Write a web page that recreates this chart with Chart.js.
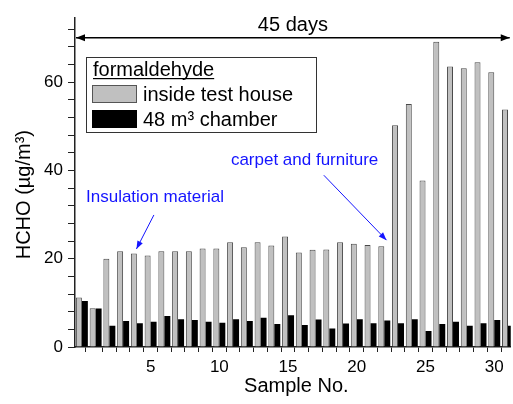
<!DOCTYPE html>
<html>
<head>
<meta charset="utf-8">
<script src="https://cdn.jsdelivr.net/npm/chart.js@4"></script>
<style>
  html, body { margin: 0; padding: 0; background: #fff; }
  #wrap { width: 513px; height: 404px; }
</style>
</head>
<body>
<div id="wrap"><canvas id="hchoChart" width="513" height="404"></canvas></div>
<script>
// Sample numbers (bar pairs) and HCHO values in µg/m³
const sampleNo = [0, 1, 2, 3, 4, 5, 6, 7, 8, 9, 10, 11, 12, 13, 14, 15,
                  16, 17, 18, 19, 20, 21, 22, 23, 24, 25, 26, 27, 28, 29, 30, 31];
const insideHouse = [11.2, 8.8, 20.0, 21.7, 21.2, 20.7, 21.7, 21.7, 21.7, 22.3, 22.3, 23.7, 22.6, 23.7, 23.0, 25.0,
                     21.4, 22.0, 22.1, 23.7, 23.4, 23.1, 22.8, 50.2, 55.0, 37.7, 69.1, 63.5, 63.1, 64.5, 62.2, 53.8];
const chamber = [10.4, 8.7, 4.8, 5.9, 5.4, 5.7, 7.0, 6.3, 6.1, 5.7, 5.5, 6.3, 5.9, 6.6, 5.2, 7.2,
                 5.0, 6.2, 4.2, 5.3, 6.3, 5.4, 6.0, 5.4, 6.3, 3.6, 5.2, 5.7, 4.8, 5.4, 6.1, 4.8];

// tick positions (labels only on the multiples)
const xTicks = [-0.5, 1, 2, 3, 4, 5, 6, 7, 8, 9, 10, 11, 12, 13, 14, 15, 16,
                17, 18, 19, 20, 21, 22, 23, 24, 25, 26, 27, 28, 29, 30, 31];
const yTicks = [0, 4, 8, 12, 16, 20, 24, 28, 32, 36, 40, 44, 48, 52, 56, 60, 64, 68, 72];

const FONT = '"Liberation Sans", Arial, sans-serif';
const BLUE = "#1414ff";

// helper: line with filled arrowhead(s)
function arrow(ctx, x1, y1, x2, y2, color, len, half, both) {
    ctx.strokeStyle = color;
    ctx.fillStyle = color;
    ctx.beginPath();
    ctx.moveTo(x1, y1);
    ctx.lineTo(x2, y2);
    ctx.stroke();
    const head = (tx, ty, fx, fy) => {
        const ang = Math.atan2(ty - fy, tx - fx);
        ctx.beginPath();
        ctx.moveTo(tx, ty);
        ctx.lineTo(tx - len * Math.cos(ang) + half * Math.sin(ang), ty - len * Math.sin(ang) - half * Math.cos(ang));
        ctx.lineTo(tx - len * Math.cos(ang) - half * Math.sin(ang), ty - len * Math.sin(ang) + half * Math.cos(ang));
        ctx.closePath();
        ctx.fill();
    };
    head(x2, y2, x1, y1);
    if (both) head(x1, y1, x2, y2);
}

const overlay = {
    id: "overlay",
    afterDraw(chart) {
        const { ctx, chartArea: a, scales: { x, y } } = chart;
        ctx.save();

        // axis titles (placed by hand, the originals sit off-centre)
        ctx.font = "20px " + FONT;
        ctx.fillStyle = "#000";
        ctx.textAlign = "center";
        ctx.textBaseline = "middle";
        ctx.fillText("Sample No.", x.getPixelForValue(15.6), 386);
        ctx.save();
        ctx.translate(24, y.getPixelForValue(34.5));
        ctx.rotate(-Math.PI / 2);
        ctx.fillText("HCHO (µg/m³)", 0, 0);
        ctx.restore();

        // "45 days" span arrow
        const ySpan = y.getPixelForValue(70);
        ctx.lineWidth = 1.5;
        arrow(ctx, a.left + 1, ySpan, a.right - 1, ySpan, "#000", 9, 3.5, true);
        ctx.fillStyle = "#000";
        ctx.fillText("45 days", (a.left + a.right) / 2, y.getPixelForValue(72.9));

        // legend box
        const lx = a.left + 11, ly = a.top + 39;
        ctx.lineWidth = 1;
        ctx.strokeStyle = "#333";
        ctx.strokeRect(lx + 0.5, ly + 0.5, 230, 75);
        ctx.textAlign = "left";
        ctx.fillStyle = "#000";
        ctx.fillText("formaldehyde", lx + 7, ly + 13);
        const w = ctx.measureText("formaldehyde").width;
        ctx.fillRect(lx + 7, ly + 21, w, 1.2);
        ctx.fillStyle = "#c0c0c0";
        ctx.fillRect(lx + 6, ly + 28, 45, 18);
        ctx.strokeStyle = "#555";
        ctx.strokeRect(lx + 6.5, ly + 28.5, 44, 17);
        ctx.fillStyle = "#000";
        ctx.fillRect(lx + 6, ly + 53, 45, 18);
        ctx.fillText("inside test house", lx + 57, ly + 38);
        ctx.fillText("48 m\u00b3 chamber", lx + 57, ly + 63);

        // blue annotations
        ctx.font = "17px " + FONT;
        ctx.fillStyle = BLUE;
        ctx.fillText("Insulation material", x.getPixelForValue(0.3), y.getPixelForValue(34.0));
        ctx.fillText("carpet and furniture", x.getPixelForValue(10.84), y.getPixelForValue(42.3));
        ctx.lineWidth = 1;
        arrow(ctx, x.getPixelForValue(5.24), y.getPixelForValue(29.9),
              x.getPixelForValue(3.97), y.getPixelForValue(22.2), BLUE, 8, 3, false);
        arrow(ctx, x.getPixelForValue(17.6), y.getPixelForValue(38.9),
              x.getPixelForValue(22.16), y.getPixelForValue(24.2), BLUE, 8, 3, false);

        ctx.restore();
    }
};

const ctx = document.getElementById("hchoChart").getContext("2d");
new Chart(ctx, {
    type: "bar",
    data: {
        datasets: [{
            label: "inside test house",
            data: sampleNo.map((s, i) => ({ x: s, y: insideHouse[i] })),
            backgroundColor: "#c0c0c0",
            borderColor: "#4a4a4a",
            borderWidth: 1
        }, {
            label: "48 m³ chamber",
            data: sampleNo.map((s, i) => ({ x: s, y: chamber[i] })),
            backgroundColor: "#000",
            borderWidth: 0
        }]
    },
    options: {
        responsive: false,
        animation: false,
        categoryPercentage: 0.87,
        barPercentage: 1.0,
        layout: { padding: { top: 18, right: 0, left: 0, bottom: 0 } },
        plugins: { legend: { display: false }, tooltip: { enabled: false } },
        scales: {
            x: {
                type: "linear",
                min: -0.5,
                max: 31.2,
                offset: false,
                afterFit: (s) => { s.height = 57; },
                afterBuildTicks: (s) => { s.ticks = xTicks.map(v => ({ value: v })); },
                grid: { display: true, drawOnChartArea: false, drawTicks: true, tickLength: 5, color: "#222", lineWidth: 1 },
                border: { display: true, color: "#222", width: 1.5 },
                ticks: {
                    autoSkip: false,
                    maxRotation: 0,
                    padding: 5,
                    color: "#000",
                    font: { family: FONT, size: 17 },
                    callback: (v) => (v % 5 === 0 ? v : "")
                },
                title: { display: false }
            },
            y: {
                min: 0,
                max: 74.5,
                afterFit: (s) => { s.width = 75; },
                afterBuildTicks: (s) => { s.ticks = yTicks.map(v => ({ value: v })); },
                grid: { display: true, drawOnChartArea: false, drawTicks: true, tickLength: 7, color: "#222", lineWidth: 1 },
                border: { display: true, color: "#222", width: 1.5 },
                ticks: {
                    autoSkip: false,
                    padding: 5,
                    color: "#000",
                    font: { family: FONT, size: 17 },
                    callback: (v) => (v % 20 === 0 ? v : "")
                },
                title: { display: false }
            }
        }
    },
    plugins: [overlay]
});
</script>
</body>
</html>
